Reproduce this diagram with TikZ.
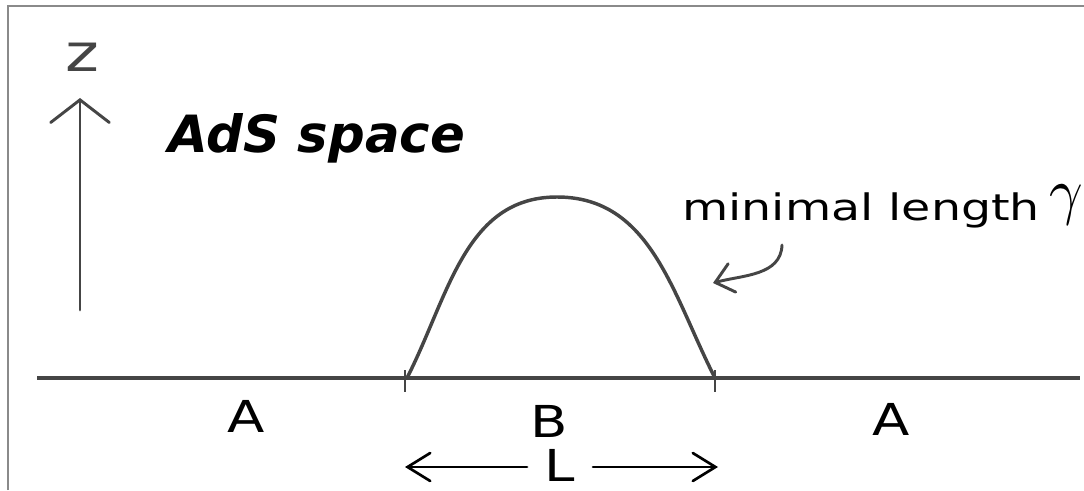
\documentclass[tikz,border=0pt]{standalone}
\usepackage{graphicx}
\usepackage{fontspec}
\setmainfont{DejaVu Sans}
\newfontfamily\widefont[FakeStretch=1.24]{DejaVu Sans}
\newfontfamily\widerfont[FakeStretch=1.3]{DejaVu Sans}
\usetikzlibrary{arrows.meta}
\definecolor{linegray}{HTML}{454545}
\definecolor{framegray}{HTML}{8A8A8A}
\tikzset{
  lbl/.style={inner sep=0pt, font=\fontsize{33}{36}\selectfont\widefont, text=black},
  barbz/.style={-{Straight Barb[length=17pt,width=44pt,line cap=round]}},
  barbL/.style={-{Straight Barb[length=17pt,width=21pt,line cap=round]}},
  barbC/.style={-{Straight Barb[length=13pt,width=22pt,line cap=round]}},
}
\begin{document}
\begin{tikzpicture}[x=0.75pt,y=0.75pt]
\useasboundingbox (0,0) rectangle (1084,490);
% frame
\draw[framegray, line width=2pt] (8,0) -- (8,484) -- (1084,484);
% axis arrow
\coordinate (zb) at (80,180);
\coordinate (zt) at (80,392);
\draw[linegray, line width=2.2pt, line cap=round, barbz] (zb) -- (zt);
\node[inner sep=0pt, anchor=base, font=\fontsize{39}{40}\selectfont\widefont, text=linegray] (z) at (82,418) {z};
% title
\node[inner sep=0pt, anchor=base west, font=\fontsize{38.5}{40}\selectfont\bfseries\itshape] (title) at (168,338) {AdS space};
% baseline
\coordinate (bl) at (37,112);
\coordinate (br) at (1080,112);
\draw[linegray, line width=3.6pt] (bl) -- (br);
% ticks
\coordinate (t1a) at (405,120);
\coordinate (t1b) at (405,98);
\coordinate (t2a) at (715,120);
\coordinate (t2b) at (715,98);
\draw[linegray, line width=2pt] (t1a) -- (t1b);
\draw[linegray, line width=2pt] (t2a) -- (t2b);
% geodesic
\coordinate (gs) at (407,112);
\coordinate (gp) at (557,293);
\coordinate (ge) at (715,112);
\draw[linegray, line width=2.6pt] (gs) to[out=63,in=180] (gp) to[out=0,in=117] (ge);
% label
\node[inner sep=0pt, anchor=base west, font=\fontsize{27.4}{30}\selectfont\widerfont, text=black] (ml) at (682,270) {minimal length};
\node[inner sep=0pt] (gam) at (1066,285) {\scalebox{4.4}[4.8]{$\gamma$}};
% curved arrow
\coordinate (cs) at (782,245);
\coordinate (ct) at (713,207);
\draw[linegray, line width=2.2pt, line cap=round, barbC] (cs) to[out=-92,in=15] (ct);
% region labels
\node[lbl, anchor=base] (A1) at (246,58) {A};
\node[lbl, anchor=base] (B) at (549,53) {B};
\node[lbl, anchor=base] (A2) at (891,55) {A};
\node[lbl, anchor=base] (L) at (560,9) {L};
% L arrows
\coordinate (la) at (527,23);
\coordinate (lt) at (405,23);
\coordinate (ra) at (593,23);
\coordinate (rt) at (718,23);
\draw[black, line width=2pt, line cap=round, barbL] (la) -- (lt);
\draw[black, line width=2pt, line cap=round, barbL] (ra) -- (rt);
\end{tikzpicture}
\end{document}
